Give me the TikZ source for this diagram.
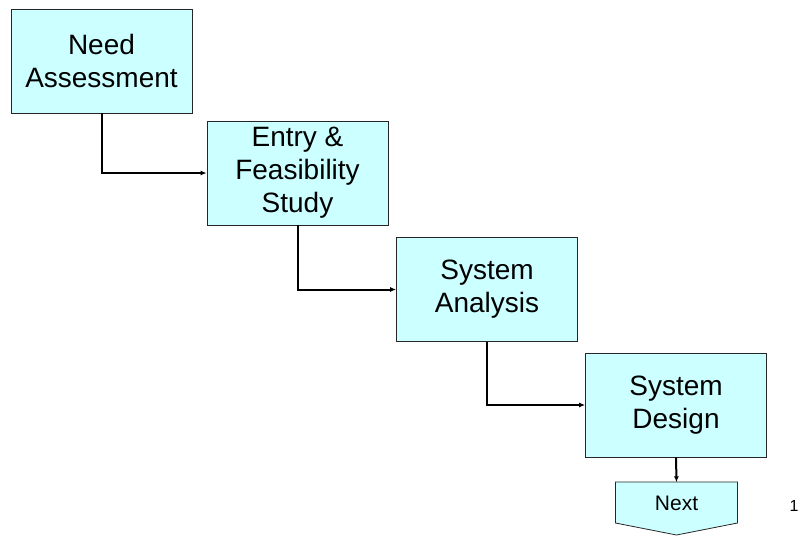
\documentclass[tikz,border=0pt]{standalone}
\usepackage{fontspec}
\setmainfont{Liberation Sans}
\usepackage{tikz}
\usetikzlibrary{arrows.meta}

\definecolor{stepfill}{HTML}{CCFFFF}

\begin{document}
\begin{tikzpicture}[x=1pt, y=1pt,
    stepbox/.style={rectangle, draw=black!85, line width=0.8pt, fill=stepfill,
        minimum width=181pt, minimum height=104pt, inner sep=0pt, align=center,
        font=\fontsize{28}{33}\selectfont},
    flow/.style={-{Latex[length=6pt, width=5pt]}, line width=2pt}]
    \useasboundingbox (0,0) rectangle (799,-536);

    \node (NA) at (101.5,-61) [stepbox] {Need\\Assessment};
    \node (EF) at (297.5,-173) [stepbox] {Entry \&\\Feasibility\\Study};
    \node (SA) at (487,-289.5) [stepbox] {System\\Analysis};
    \node (SD) at (676,-405) [stepbox] {System\\Design};

    % next page marker
    \draw [draw=black!85, line width=0.8pt, fill=stepfill]
        (615.5,-482) -- (737.5,-482) -- (737.5,-523) -- (676.5,-535) -- (615.5,-523) -- cycle;
    \node (NX) at (676.5,-503) [minimum width=122pt, minimum height=41pt, inner sep=0pt,
        font=\fontsize{21}{25}\selectfont] {Next};

    \draw [flow] (NA.south) |- (EF.west);
    \draw [flow] (EF.south) |- (SA.west);
    \draw [flow] (SA.south) |- (SD.west);
    \draw [flow] (SD.south) -- (NX.north);

    \node (PG) at (794,-506) [font=\fontsize{16}{19}\selectfont] {1};
\end{tikzpicture}
\end{document}
